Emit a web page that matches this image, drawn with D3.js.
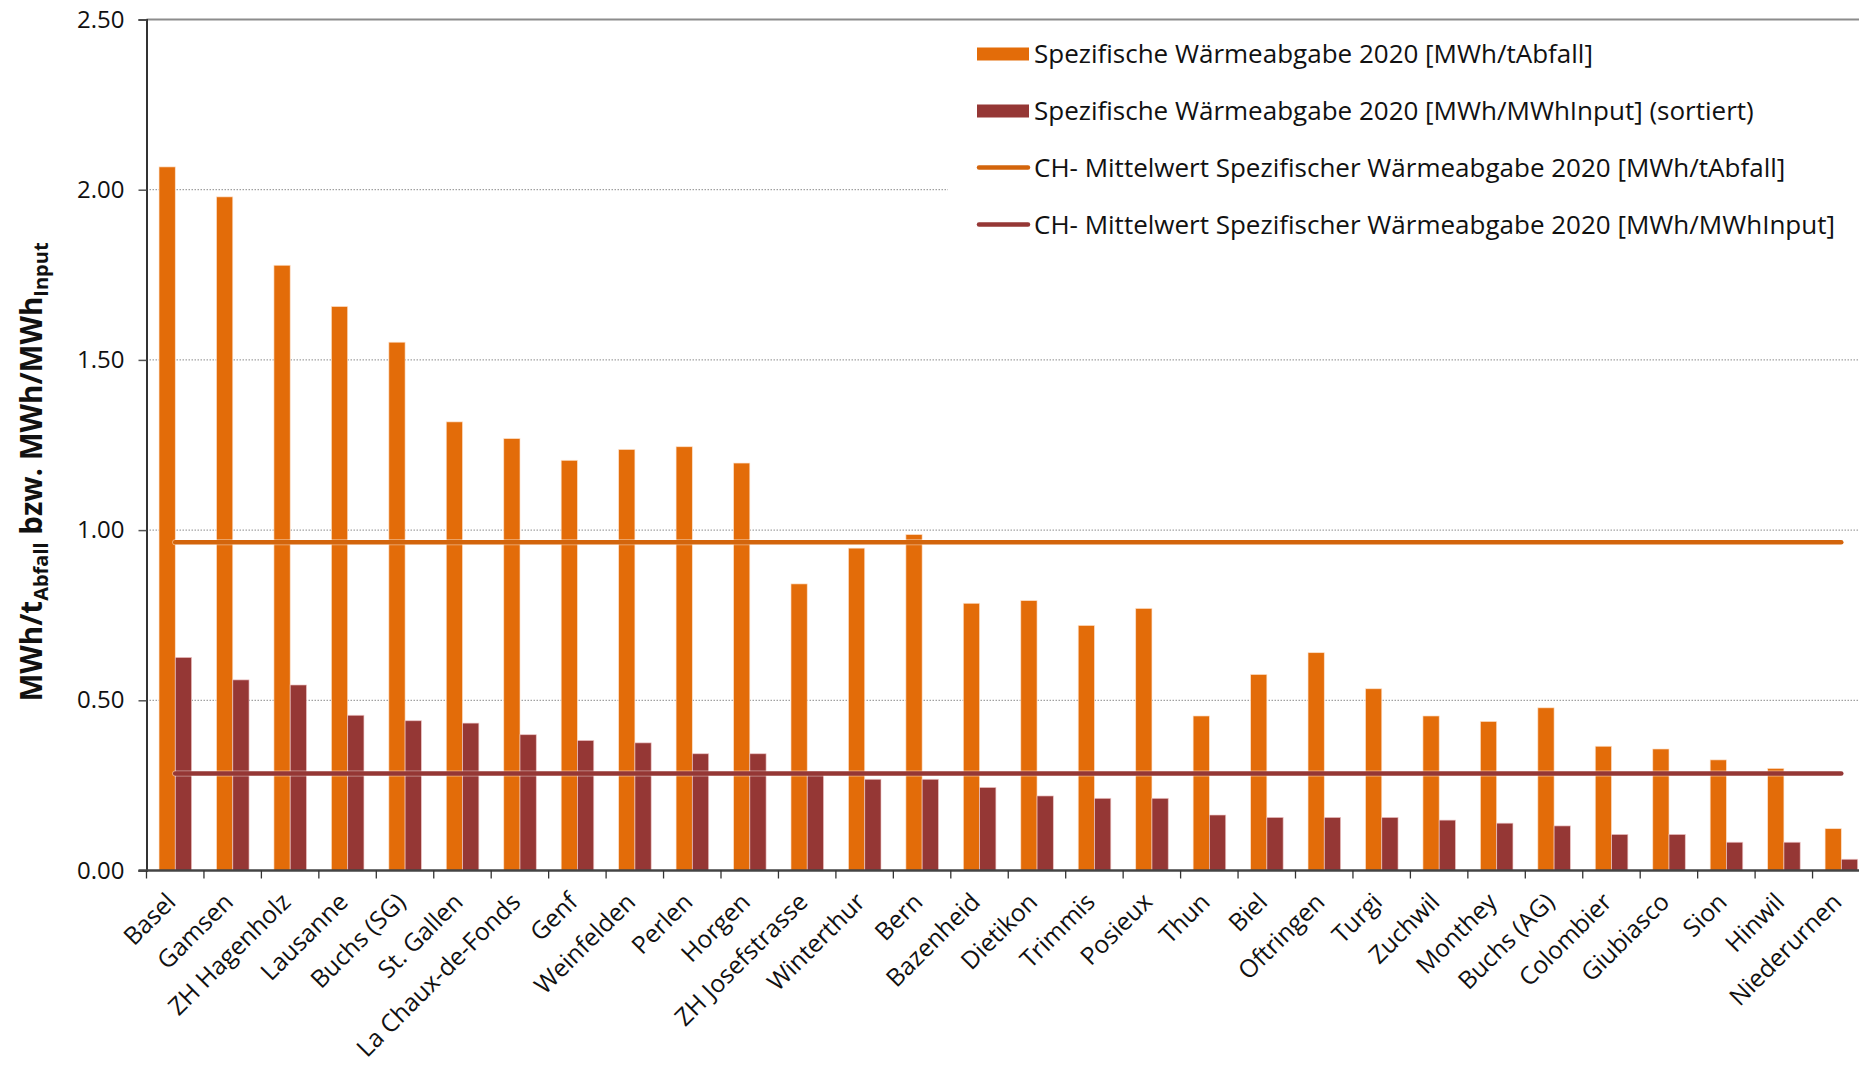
<!DOCTYPE html>
<html><head><meta charset="utf-8">
<script src="https://cdn.jsdelivr.net/npm/d3@7"></script>
<style>
html,body{margin:0;padding:0;background:#fff;}
svg{display:block;}
text{font-family:"Open Sans",sans-serif;}
</style></head>
<body>
<svg id="chart" width="1859" height="1066"></svg>
<script>
const categories = ["Basel","Gamsen","ZH Hagenholz","Lausanne","Buchs (SG)","St. Gallen","La Chaux-de-Fonds","Genf","Weinfelden","Perlen","Horgen","ZH Josefstrasse","Winterthur","Bern","Bazenheid","Dietikon","Trimmis","Posieux","Thun","Biel","Oftringen","Turgi","Zuchwil","Monthey","Buchs (AG)","Colombier","Giubiasco","Sion","Hinwil","Niederurnen"];
const waermeAbfall = [2.067,1.979,1.778,1.657,1.552,1.318,1.269,1.205,1.237,1.245,1.197,0.842,0.947,0.987,0.785,0.793,0.720,0.770,0.454,0.576,0.640,0.534,0.454,0.438,0.478,0.365,0.357,0.325,0.300,0.123];
const waermeInput = [0.626,0.560,0.545,0.456,0.440,0.433,0.399,0.382,0.375,0.343,0.343,0.290,0.268,0.268,0.244,0.219,0.212,0.212,0.163,0.156,0.156,0.156,0.148,0.139,0.131,0.106,0.106,0.083,0.083,0.033];
const meanAbfall = 0.964;
const meanInput = 0.285;
const yTicks = [0,0.5,1.0,1.5,2.0,2.5];
const seriesNames = ["Spezifische Wärmeabgabe 2020 [MWh/tAbfall]","Spezifische Wärmeabgabe 2020 [MWh/MWhInput] (sortiert)"];
const meanNames = ["CH- Mittelwert Spezifischer Wärmeabgabe 2020 [MWh/tAbfall]","CH- Mittelwert Spezifischer Wärmeabgabe 2020 [MWh/MWhInput]"];

const C_OR = "#E36C09", C_DR = "#953735", C_ORL = "#D3650C";
const svg = d3.select("#chart");
const pLeft = 146.5, pTop = 19.5, pBottom = 870.5, catW = 57.45;
const pRight = pLeft + catW * categories.length;

const x = d3.scaleBand().domain(categories).range([pLeft, pRight]).padding(0);
const x1 = d3.scaleBand().domain(["a","i"]).range([x.bandwidth()*0.218, x.bandwidth()*0.785]).padding(0);
const y = d3.scaleLinear().domain([0,2.5]).range([pBottom, pTop]);

// gridlines
svg.append("g").selectAll("line").data(yTicks.filter(t=>t>0 && t<2.5)).join("line")
  .attr("x1", pLeft).attr("x2", 1859).attr("y1", d=>y(d)).attr("y2", d=>y(d))
  .attr("stroke","#8a8a8a").attr("stroke-width",1).attr("stroke-dasharray","1.5,1.5");
// top border
svg.append("line").attr("x1",pLeft).attr("x2",1859).attr("y1",y(2.5)).attr("y2",y(2.5))
  .attr("stroke","#8c8c8c").attr("stroke-width",2);

// bars
const g = svg.append("g");
g.selectAll("rect.a").data(categories).join("rect").attr("class","a")
  .attr("x", (d)=>x(d)+x1("a")).attr("width", x1.bandwidth())
  .attr("y", (d,i)=>y(waermeAbfall[i])).attr("height",(d,i)=>y(0)-y(waermeAbfall[i]))
  .attr("fill",C_OR).attr("stroke","rgba(255,230,210,0.8)").attr("stroke-width",0.8);
g.selectAll("rect.i").data(categories).join("rect").attr("class","i")
  .attr("x", (d)=>x(d)+x1("i")).attr("width", x1.bandwidth())
  .attr("y", (d,i)=>y(waermeInput[i])).attr("height",(d,i)=>y(0)-y(waermeInput[i]))
  .attr("fill",C_DR).attr("stroke","rgba(240,200,200,0.8)").attr("stroke-width",0.8);

// mean lines
const xc = d => x(d) + x.bandwidth()/2;
const lineGen = d3.line().x(d=>xc(d.c)).y(d=>y(d.v));
[[meanAbfall,C_ORL],[meanInput,C_DR]].forEach(([m,c])=>{
  const pts = [{c:categories[0],v:m},{c:categories[categories.length-1],v:m}];
  svg.append("path").attr("d",lineGen(pts)).attr("fill","none")
    .attr("stroke","rgba(255,255,255,0.5)").attr("stroke-width",6).attr("stroke-linecap","round");
  svg.append("path").attr("d",lineGen(pts)).attr("fill","none")
    .attr("stroke",c).attr("stroke-width",4.5).attr("stroke-linecap","round");
});

// y axis
const yAxis = svg.append("g").attr("transform",`translate(${pLeft},0)`)
  .call(d3.axisLeft(y).tickValues(yTicks).tickFormat(d3.format(".2f")).tickSize(8).tickPadding(14));
yAxis.select(".domain").attr("stroke","#333").attr("stroke-width",2);
yAxis.selectAll(".tick line").attr("stroke","#555").attr("stroke-width",1.5);
yAxis.selectAll(".tick text").attr("font-size",24).attr("fill","#111").attr("font-family","Open Sans");

// x axis baseline and boundary ticks
svg.append("line").attr("x1",pLeft-8).attr("x2",1859).attr("y1",pBottom).attr("y2",pBottom)
  .attr("stroke","#444").attr("stroke-width",2.5);
svg.append("g").selectAll("line").data(categories).join("line")
  .attr("x1",d=>x(d)).attr("x2",d=>x(d)).attr("y1",pBottom).attr("y2",pBottom+8)
  .attr("stroke","#333").attr("stroke-width",1.3);
const xAxis = svg.append("g").attr("transform",`translate(0,${pBottom})`)
  .call(d3.axisBottom(x).tickSize(0).tickPadding(0));
xAxis.select(".domain").remove();
xAxis.selectAll(".tick text")
  .attr("font-size",24.6).attr("fill","#111").attr("font-family","Open Sans")
  .attr("text-anchor","end").attr("dy",0).attr("y",0)
  .attr("transform","translate(2,33) rotate(-45)");

// y title
const yt = svg.append("text").attr("transform","translate(42,472) rotate(-90)")
  .attr("text-anchor","middle").attr("font-weight","bold").attr("font-size",29.5).attr("fill","#111");
yt.append("tspan").text("MWh/t");
yt.append("tspan").text("Abfall").attr("font-size",20).attr("dy",6);
yt.append("tspan").text(" bzw. MWh/MWh").attr("dy",-6);
yt.append("tspan").text("Input").attr("font-size",20).attr("dy",6);

// legend
svg.append("rect").attr("x",948).attr("y",26).attr("width",920).attr("height",230).attr("fill","#fff");
const lg = svg.append("g");
const ly = [53.5,110.5,167.5,224.5];
[C_OR,C_DR].forEach((c,i)=>{
  lg.append("rect").attr("x",977).attr("y",ly[i]-6).attr("width",52).attr("height",13).attr("fill",c);
  lg.append("text").attr("x",1034).attr("y",ly[i]+9).attr("font-size",26).attr("fill","#111").text(seriesNames[i]);
});
[C_ORL,C_DR].forEach((c,i)=>{
  lg.append("line").attr("x1",979).attr("x2",1028).attr("y1",ly[i+2]).attr("y2",ly[i+2])
    .attr("stroke",c).attr("stroke-width",4.5).attr("stroke-linecap","round");
  lg.append("text").attr("x",1034).attr("y",ly[i+2]+9).attr("font-size",26).attr("fill","#111").text(meanNames[i]);
});
</script>
</body></html>
